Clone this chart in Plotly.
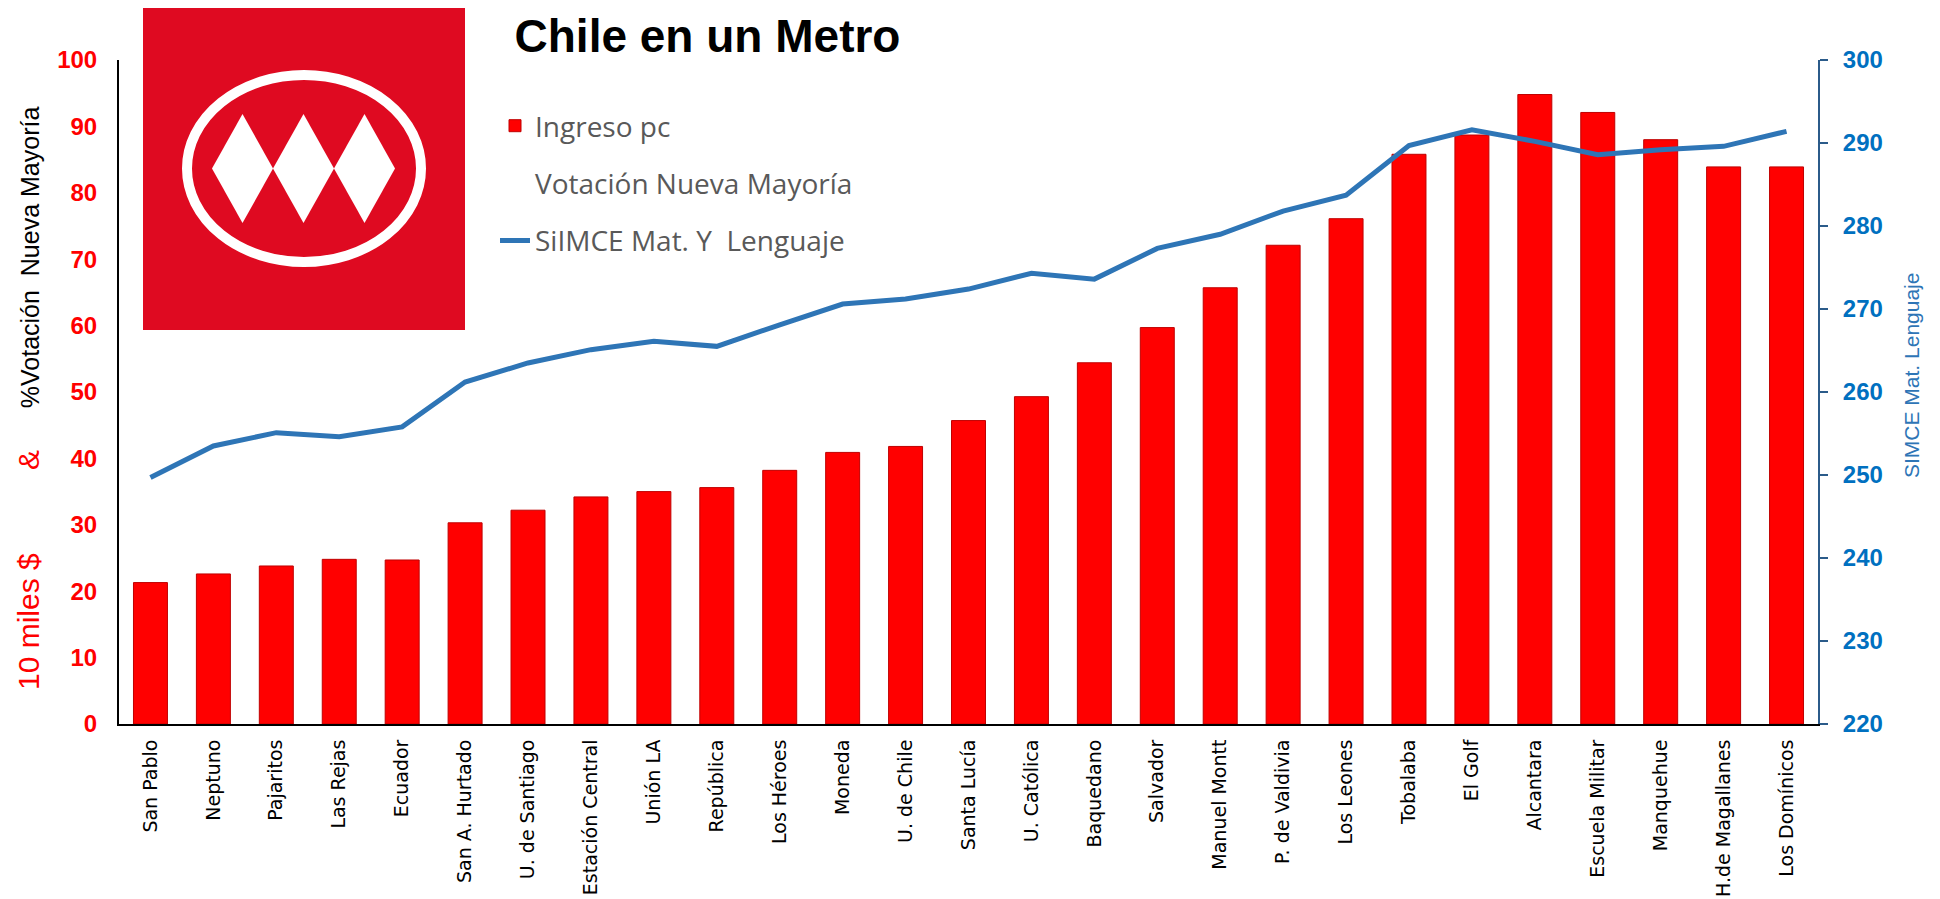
"""
Chile en un Metro: ingreso per cápita por estación (barras) y SIMCE (línea).
"""
import plotly.graph_objects as go

# --- Datos ---
estaciones = [
    "San Pablo", "Neptuno", "Pajaritos", "Las Rejas", "Ecuador", "San A. Hurtado",
    "U. de Santiago", "Estación Central", "Unión LA", "República", "Los Héroes",
    "Moneda", "U. de Chile", "Santa Lucía", "U. Católica", "Baquedano", "Salvador",
    "Manuel Montt", "P. de Valdivia", "Los Leones", "Tobalaba", "El Golf",
    "Alcantara", "Escuela Militar", "Manquehue", "H.de Magallanes", "Los Domínicos",
]
ingreso_pc = [
    21.3, 22.6, 23.8, 24.8, 24.7, 30.3, 32.2, 34.2, 35.0, 35.6, 38.2, 40.9, 41.8,
    45.7, 49.3, 54.4, 59.7, 65.7, 72.1, 76.1, 85.8, 88.7, 94.8, 92.1, 88.0, 83.9, 83.9,
]
simce = [
    249.7, 253.5, 255.1, 254.6, 255.8, 261.2, 263.5, 265.1, 266.1, 265.5, 268.1,
    270.6, 271.2, 272.4, 274.3, 273.6, 277.3, 279.0, 281.8, 283.7, 289.7, 291.6,
    290.2, 288.6, 289.2, 289.6, 291.4,
]
ticks_izq = list(range(0, 101, 10))
ticks_der = list(range(220, 301, 10))

# la página tiene 8px de margen en el body: todo se mide en coordenadas de página
OFF = 8
W, H = 1940 - OFF, 899 - OFF
X0, X1, Y0, Y1 = 119, 1818, 60, 724          # área del gráfico (página)
L, R, T, B = X0 - OFF, W - (X1 - OFF), Y0 - OFF, H - (Y1 - OFF)

ROJO = "#FF0000"
AZUL = "#2E75B6"
FONT = "Liberation Sans"


def px(x):
    return (x - X0) / (X1 - X0)


def py(y):
    return (Y1 - y) / (Y1 - Y0)


fig = go.Figure()
fig.add_trace(go.Bar(
    x=estaciones, y=ingreso_pc, name="Ingreso pc",
    marker=dict(color=ROJO, line=dict(color="#C00000", width=1)),
    legendgroup="a",
))
# serie sin datos visibles en el gráfico original
fig.add_trace(go.Scatter(
    x=[None], y=[None], mode="lines", name="Votación Nueva Mayoría",
    line=dict(color="rgba(0,0,0,0)", width=0), legendgroup="b",
))
fig.add_trace(go.Scatter(
    x=estaciones, y=simce, mode="lines", name="SiIMCE Mat. Y\u00a0 Lenguaje",
    line=dict(color=AZUL, width=5), yaxis="y2", legendgroup="c",
))

# --- Logo del Metro ---
shapes = [
    dict(type="rect", xref="paper", yref="paper", x0=px(143), x1=px(465),
         y0=py(330), y1=py(7), fillcolor="#DF0A21", line=dict(width=0), layer="above"),
    dict(type="circle", xref="paper", yref="paper", x0=px(187), x1=px(421),
         y0=py(262), y1=py(75), line=dict(color="white", width=10), layer="above"),
]
for cx in (242.5, 303.5, 364.5):
    path = "M {} {} L {} {} L {} {} L {} {} Z".format(
        px(cx - 30.5), py(168.5), px(cx), py(114),
        px(cx + 30.5), py(168.5), px(cx), py(223),
    )
    shapes.append(dict(type="path", xref="paper", yref="paper", path=path,
                       fillcolor="white", line=dict(width=0), layer="above"))

nb = "\u00a0"
titulo_izq = (
    '<span style="color:#FF0000;font-size:30px">10 miles $' + nb * 10 + "&amp;"
    + nb * 5 + "</span>"
    + '<span style="color:#000000;font-size:25px">%Votación' + nb * 2
    + "Nueva Mayoría</span>"
)

fig.update_layout(
    width=W, height=H, autosize=False,
    margin=dict(l=L, r=R, t=T, b=B),
    paper_bgcolor="white", plot_bgcolor="white",
    font=dict(family=FONT),
    bargap=0.46,
    title=dict(text="<b>Chile en un Metro</b>", x=(707.5 - OFF) / W, xanchor="center",
               y=1 - (36 - OFF) / H, yanchor="middle", yref="container",
               font=dict(size=46, color="black", family=FONT)),
    xaxis=dict(
        range=[-0.5, len(estaciones) - 0.5], showline=True, linecolor="black",
        linewidth=2, ticks="", tickangle=-90, showgrid=False, automargin=False,
        tickfont=dict(family="DejaVu Sans", size=19, color="black"),
        ticklabelstandoff=6,
    ),
    yaxis=dict(
        range=[0, 100], tickvals=ticks_izq, showline=True, linecolor="black",
        linewidth=2, ticks="", showgrid=False, zeroline=False, automargin=False,
        tickfont=dict(size=24, color=ROJO, weight="bold"),
        ticklabelstandoff=15,
    ),
    yaxis2=dict(
        range=[220, 300], tickvals=ticks_der, overlaying="y", side="right",
        showline=True, linecolor="#2B5B8A", linewidth=2, ticks="outside",
        ticklen=8, tickcolor="#2B5B8A", tickwidth=2, showgrid=False, zeroline=False,
        automargin=False,
        tickfont=dict(size=24, color="#0070C0", weight="bold"),
        ticklabelstandoff=10,
    ),
    legend=dict(
        x=px(495), y=py(101), xanchor="left", yanchor="top",
        bgcolor="rgba(0,0,0,0)", traceorder="grouped", tracegroupgap=18,
        font=dict(family="Open Sans", size=28, color="#595959"),
    ),
    shapes=shapes,
    annotations=[
        dict(text=titulo_izq, xref="paper", yref="paper", x=px(28), y=py(399),
             textangle=-90, showarrow=False, xanchor="center", yanchor="middle",
             font=dict(size=27, family=FONT)),
        dict(text="SIMCE Mat. Lenguaje", xref="paper", yref="paper", x=px(1911),
             y=py(376), textangle=-90, showarrow=False, xanchor="center",
             yanchor="middle", font=dict(size=21, color=AZUL, family=FONT)),
    ],
)

fig.write_html("out.html")
